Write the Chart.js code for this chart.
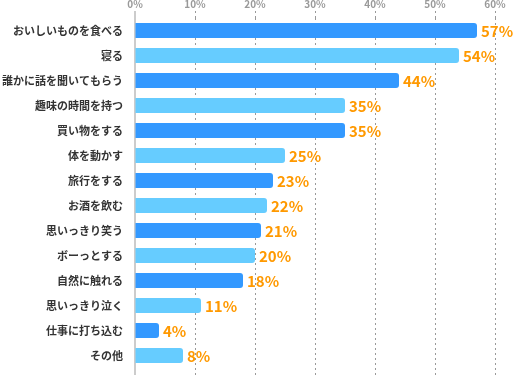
<!DOCTYPE html>
<html>
<head>
<meta charset="utf-8">
<script src="https://cdn.jsdelivr.net/npm/chart.js@4"></script>
<style>
  html, body { margin: 0; padding: 0; background: #fff; }
  #wrap { width: 514px; height: 375px; }
</style>
</head>
<body>
<div id="wrap"><canvas id="c" width="514" height="375"></canvas></div>
<script>
'use strict';

// --- data ---
const categories = [
  'おいしいものを食べる', '寝る', '誰かに話を聞いてもらう', '趣味の時間を持つ',
  '買い物をする', '体を動かす', '旅行をする', 'お酒を飲む', '思いっきり笑う',
  'ボーっとする', '自然に触れる', '思いっきり泣く', '仕事に打ち込む', 'その他'
];
const values = [57, 54, 44, 35, 35, 25, 23, 22, 21, 20, 18, 11, 4, 8];
const xTicks = [0, 10, 20, 30, 40, 50, 60];

const JP = '"Noto Sans CJK JP", "Noto Sans", sans-serif';
const gridGray = '#999';

// value labels at the end of each bar
const valueLabels = {
  id: 'valueLabels',
  afterDatasetsDraw(chart) {
    const { ctx } = chart;
    const meta = chart.getDatasetMeta(0);
    ctx.save();
    ctx.font = 'bold 15px ' + JP;
    ctx.fillStyle = '#ff9900';
    ctx.textAlign = 'left';
    ctx.textBaseline = 'middle';
    meta.data.forEach((bar, i) => {
      ctx.fillText(values[i] + '%', bar.x + 4, bar.y + 1);
    });
    ctx.restore();
  },
};

// grid lines run on below the chart area to the bottom of the canvas
const gridTail = {
  id: 'gridTail',
  beforeDatasetsDraw(chart) {
    const { ctx, chartArea, scales } = chart;
    ctx.save();
    xTicks.forEach(v => {
      const x = Math.round(scales.x.getPixelForValue(v));
      if (v === 0) {
        ctx.strokeStyle = '#cccccc';
        ctx.lineWidth = 2;
        ctx.setLineDash([]);
        ctx.beginPath();
        ctx.moveTo(x, 11);
        ctx.lineTo(x, chart.height);
        ctx.stroke();
      } else {
        ctx.strokeStyle = gridGray;
        ctx.lineWidth = 1;
        ctx.setLineDash([2, 3]);
        ctx.beginPath();
        ctx.moveTo(x + 0.5, chartArea.bottom);
        ctx.lineTo(x + 0.5, chart.height);
        ctx.stroke();
      }
    });
    ctx.restore();
  },
};

new Chart(document.getElementById('c').getContext('2d'), {
  type: 'bar',
  data: {
    labels: categories,
    datasets: [{
      data: values,
      backgroundColor: values.map((_, i) => (i % 2 === 0 ? '#3399ff' : '#66ccff')),
      borderWidth: 0,
      borderRadius: 3,
      barPercentage: 0.6,
      categoryPercentage: 1,
    }],
  },
  options: {
    indexAxis: 'y',
    responsive: false,
    animation: false,
    devicePixelRatio: 1,
    layout: { padding: { top: 0, right: 19, bottom: 7, left: 0 } },
    plugins: {
      legend: { display: false },
      tooltip: { enabled: false },
    },
    scales: {
      x: {
        position: 'top',
        min: 0,
        max: 60,
        afterFit: s => { s.height = 18; s.paddingLeft = 0; s.paddingRight = 0; },
        afterBuildTicks: s => { s.ticks = xTicks.map(v => ({ value: v })); },
        ticks: {
          callback: v => v + '%',
          color: '#999',
          font: { family: JP, size: 10, weight: 'bold' },
          padding: 1,
          maxRotation: 0,
        },
        grid: {
          color: c => (c.tick && c.tick.value === 0 ? 'rgba(0,0,0,0)' : gridGray),
          tickColor: c => (c.tick && c.tick.value === 0 ? 'rgba(0,0,0,0)' : gridGray),
          tickLength: 7,
          tickBorderDash: [2, 3],
        },
        border: { display: false, dash: [2, 3] },
      },
      y: {
        afterFit: s => { s.width = 135; s.paddingTop = 0; s.paddingBottom = 0; },
        ticks: {
          color: '#333',
          font: { family: JP, size: 11, weight: 'bold' },
          padding: 12,
        },
        grid: { display: false, drawTicks: false },
        border: { display: false },
      },
    },
  },
  plugins: [gridTail, valueLabels],
});
</script>
</body>
</html>
